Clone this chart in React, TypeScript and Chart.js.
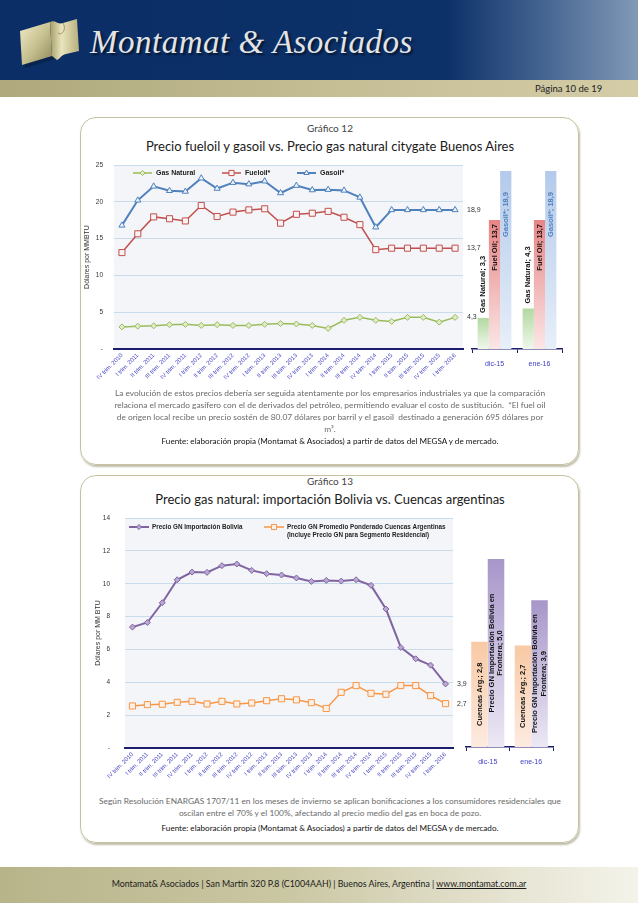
import React, { useEffect, useRef } from 'react';
import { Chart, registerables } from 'chart.js';
import { drawPoint } from 'chart.js/helpers';

Chart.register(...registerables);

// ---------- DATA ----------
const quarters = [
  'IV trim. 2010', 'I trim. 2011', 'II trim. 2011', 'III trim. 2011', 'IV trim. 2011',
  'I trim. 2012', 'II trim. 2012', 'III trim. 2012', 'IV trim. 2012',
  'I trim. 2013', 'II trim. 2013', 'III trim. 2013', 'IV trim. 2013',
  'I trim. 2014', 'II trim. 2014', 'III trim. 2014', 'IV trim. 2014',
  'I trim. 2015', 'II trim. 2015', 'III trim. 2015', 'IV trim. 2015', 'I trim. 2016',
];

const gasNatural = [3.0, 3.1, 3.15, 3.3, 3.35, 3.2, 3.3, 3.2, 3.2, 3.35, 3.45, 3.4, 3.2, 2.8, 3.9, 4.3, 3.9, 3.75, 4.3, 4.3, 3.65, 4.3];
const fueloil = [13.1, 15.65, 17.95, 17.7, 17.4, 19.5, 18.0, 18.6, 18.9, 19.05, 17.1, 18.3, 18.45, 18.7, 17.9, 16.9, 13.5, 13.7, 13.7, 13.7, 13.7, 13.7];
const gasoil = [16.8, 20.2, 22.1, 21.5, 21.4, 23.2, 21.8, 22.6, 22.4, 22.8, 21.2, 22.2, 21.6, 21.65, 21.55, 20.6, 16.55, 18.9, 18.9, 18.9, 18.9, 18.9];

const months = ['dic-15', 'ene-16'];
const barGasNatural = [3.3, 4.3];
const barFuelOil = [13.7, 13.7];
const barGasoil = [18.9, 18.9];

const bolivia = [7.36, 7.64, 8.84, 10.24, 10.71, 10.69, 11.1, 11.2, 10.81, 10.61, 10.53, 10.35, 10.14, 10.2, 10.16, 10.24, 9.9, 8.46, 6.12, 5.43, 5.04, 3.9];
const cuencas = [2.56, 2.64, 2.66, 2.78, 2.84, 2.68, 2.84, 2.68, 2.74, 2.88, 3.0, 2.93, 2.76, 2.41, 3.39, 3.8, 3.33, 3.27, 3.8, 3.8, 3.19, 2.7];

const barCuencas = [2.8, 2.7];
const barBolivia = [5.0, 3.9];

const yTicks12 = { min: 0, max: 25, step: 5 };
const yTicks13 = { min: 0, max: 14, step: 2 };

// ---------- HELPERS ----------
const fmt = (v: number) => v.toFixed(1).replace('.', ',');
const SANS = '"Liberation Sans", Arial, sans-serif';

function wrapText(ctx: CanvasRenderingContext2D, text: string, maxW: number) {
  const words = text.split(' ');
  const lines: string[] = [];
  let cur = '';
  for (const w of words) {
    const t = cur ? cur + ' ' + w : w;
    if (ctx.measureText(t).width > maxW && cur) {
      lines.push(cur);
      cur = w;
    } else cur = t;
  }
  if (cur) lines.push(cur);
  return lines;
}

const plotBg = {
  id: 'plotBg',
  beforeDraw(chart: any, _a: any, o: any) {
    if (!o || !o.color) return;
    const { ctx, chartArea: a } = chart;
    ctx.save();
    ctx.fillStyle = o.color;
    ctx.fillRect(a.left, a.top, a.right - a.left, a.bottom - a.top);
    ctx.restore();
  },
};

const endLabels = {
  id: 'endLabels',
  afterDatasetsDraw(chart: any, _a: any, o: any) {
    if (!o || !o.display) return;
    const ctx = chart.ctx;
    chart.data.datasets.forEach((ds: any, i: number) => {
      const meta = chart.getDatasetMeta(i);
      const pt = meta.data[meta.data.length - 1];
      const v = ds.data[ds.data.length - 1];
      ctx.save();
      ctx.font = o.font;
      ctx.fillStyle = o.color;
      ctx.textAlign = 'left';
      ctx.textBaseline = 'middle';
      ctx.fillText(fmt(v), chart.chartArea.right + o.offset, pt.y);
      ctx.restore();
    });
  },
};

const inLegend = {
  id: 'inLegend',
  afterDraw(chart: any, _a: any, o: any) {
    if (!o || !o.items) return;
    const ctx = chart.ctx;
    o.items.forEach((it: any, i: number) => {
      const ds = chart.data.datasets[i];
      const y = o.y;
      ctx.save();
      ctx.strokeStyle = ds.borderColor;
      ctx.lineWidth = ds.borderWidth;
      ctx.beginPath();
      ctx.moveTo(it.x, y);
      ctx.lineTo(it.x + o.lineLen, y);
      ctx.stroke();
      ctx.fillStyle = ds.pointBackgroundColor;
      ctx.strokeStyle = ds.borderColor;
      ctx.lineWidth = 1;
      drawPoint(ctx, { pointStyle: ds.pointStyle, radius: ds.pointRadius * 0.85, rotation: 0, borderWidth: 1 } as any, it.x + o.lineLen / 2, y);
      ctx.font = o.font;
      ctx.fillStyle = o.color;
      ctx.textAlign = 'left';
      ctx.textBaseline = 'middle';
      const lines = wrapText(ctx, ds.label, it.wrap || 9999);
      lines.forEach((ln, k) => ctx.fillText(ln, it.x + o.lineLen + o.gap, y + k * o.lineHeight));
      ctx.restore();
    });
  },
};

const barLabels = {
  id: 'barLabels',
  afterDatasetsDraw(chart: any, _a: any, o: any) {
    if (!o || !o.styles) return;
    const ctx = chart.ctx;
    chart.data.datasets.forEach((ds: any, i: number) => {
      const s = o.styles[i];
      const meta = chart.getDatasetMeta(i);
      meta.data.forEach((bar: any, j: number) => {
        const text = `${ds.label}; ${fmt(ds.data[j])}`;
        ctx.save();
        ctx.font = o.font;
        ctx.fillStyle = s.color || o.color;
        ctx.textBaseline = 'middle';
        const lines = wrapText(ctx, text, o.wrap || 9999);
        let ay: number;
        let align: CanvasTextAlign;
        if (s.anchor === 'outside') {
          ay = bar.y - s.pad;
          align = 'left';
        } else if (s.anchor === 'inside') {
          ay = bar.y + s.pad;
          align = 'right';
        } else {
          ay = (bar.y + bar.base) / 2;
          align = 'center';
        }
        ctx.translate(bar.x, ay);
        ctx.rotate(-Math.PI / 2);
        ctx.textAlign = align;
        lines.forEach((ln, k) => ctx.fillText(ln, 0, (k - (lines.length - 1) / 2) * o.lineHeight));
        ctx.restore();
      });
    });
  },
};

const grad = (bottom: string, top: string) => (c: any) => {
  const chart = c.chart;
  const y = chart.scales && chart.scales.y;
  if (!chart.chartArea || !y || c.raw == null) return top;
  const yTop = y.getPixelForValue(c.raw);
  const yBase = y.getPixelForValue(0);
  if (!isFinite(yTop) || !isFinite(yBase) || yTop === yBase) return top;
  const g = chart.ctx.createLinearGradient(0, yBase, 0, yTop);
  g.addColorStop(0, bottom);
  g.addColorStop(1, top);
  return g;
};

function lineConfig(p: any) {
  return {
    type: 'line',
    data: { labels: quarters, datasets: p.datasets },
    options: {
      responsive: false,
      animation: false,
      devicePixelRatio: 1,
      layout: { padding: p.padding },
      plugins: {
        legend: { display: false },
        tooltip: { enabled: false },
        plotBg: { color: '#f4f5f8' },
        endLabels: { display: true, font: `7px ${SANS}`, color: '#333', offset: 4 },
        inLegend: p.legend,
      },
      scales: {
        x: {
          offset: true,
          grid: { display: false, drawTicks: false },
          border: { display: true, color: '#1d1d6e', width: 2 },
          ticks: { autoSkip: false, minRotation: 45, maxRotation: 45, font: { size: 6, family: SANS }, color: '#4848c4', padding: 3 },
          afterFit: (s: any) => { s.height = p.xHeight; },
        },
        y: {
          min: p.yt.min,
          max: p.yt.max,
          ticks: {
            stepSize: p.yt.step,
            callback: (v: any) => (v === 0 ? '-' : String(v)),
            font: { size: 6.5, family: SANS },
            color: '#333',
            padding: 3,
          },
          grid: { color: '#c9dcee', drawTicks: true, tickLength: p.tickGap, tickColor: 'rgba(0,0,0,0)', lineWidth: 1 },
          border: { display: false },
          title: { display: true, text: p.yTitle, font: { size: 7, family: SANS }, color: '#333', padding: { top: p.titlePad, bottom: 0 } },
          afterFit: (s: any) => { s.width = p.yWidth; },
        },
      },
    },
    plugins: [plotBg, endLabels, inLegend],
  };
}

function barConfig(p: any) {
  return {
    type: 'bar',
    data: { labels: months, datasets: p.datasets },
    options: {
      responsive: false,
      animation: false,
      devicePixelRatio: 1,
      layout: { padding: p.padding },
      datasets: { bar: { categoryPercentage: p.catPct, barPercentage: 1 } },
      plugins: {
        legend: { display: false },
        tooltip: { enabled: false },
        barLabels: p.labels,
      },
      scales: {
        x: {
          grid: { display: true, drawOnChartArea: false, drawTicks: true, tickLength: 4, color: '#1d1d6e', lineWidth: 1, offset: true },
          border: { display: true, color: '#1d1d6e', width: 1.5 },
          ticks: { font: { size: 7, family: SANS }, color: '#3c3cc4', padding: 7 },
          afterFit: (s: any) => { s.height = 20; },
        },
        y: { display: false, min: 0, max: p.yMax },
      },
    },
    plugins: [barLabels],
  };
}

function ChartCanvas({ left, top, width, height, make }: any) {
  const ref = useRef<HTMLCanvasElement>(null);
  useEffect(() => {
    const c = new Chart(ref.current as HTMLCanvasElement, make());
    return () => c.destroy();
  }, []);
  return <canvas ref={ref} width={width} height={height} style={{ position: 'absolute', left, top, width, height }} />;
}

const make12Line = () =>
  lineConfig({
    datasets: [
      { label: 'Gas Natural', data: gasNatural, borderColor: '#9bbb59', borderWidth: 1.5, pointStyle: 'rectRot', pointRadius: 3, pointBackgroundColor: '#dfeccb', pointBorderColor: '#9bbb59', pointBorderWidth: 1, tension: 0 },
      { label: 'Fueloil*', data: fueloil, borderColor: '#c0504d', borderWidth: 1.5, pointStyle: 'rect', pointRadius: 4.3, pointBackgroundColor: '#fbf3f3', pointBorderColor: '#c0504d', pointBorderWidth: 1, tension: 0 },
      { label: 'Gasoil*', data: gasoil, borderColor: '#4f81bd', borderWidth: 2, pointStyle: 'triangle', pointRadius: 3.5, pointBackgroundColor: '#eef3fa', pointBorderColor: '#4f81bd', pointBorderWidth: 1, tension: 0 },
    ],
    padding: { top: 15, right: 22, bottom: 0, left: 0 },
    xHeight: 41,
    yWidth: 34,
    tickGap: 8,
    titlePad: 3,
    yTitle: 'Dólares por MMBTU',
    yt: yTicks12,
    legend: {
      y: 23, lineLen: 19, gap: 4, lineHeight: 8, font: `bold 7px ${SANS}`, color: '#222',
      items: [{ x: 53 }, { x: 142 }, { x: 217 }],
    },
  });

const make12Bar = () =>
  barConfig({
    datasets: [
      { label: 'Gas Natural', data: barGasNatural, backgroundColor: grad('#f0f8ec', '#b2d8a0') },
      { label: 'Fuel Oil', data: barFuelOil, backgroundColor: grad('#fbe6e6', '#e78585') },
      { label: 'Gasoil*', data: barGasoil, backgroundColor: grad('#e7eff9', '#b3caeb') },
    ],
    padding: { left: 7, right: 13, top: 21, bottom: 6 },
    catPct: 0.75,
    yMax: Math.max(...barGasoil, ...barFuelOil, ...barGasNatural),
    labels: {
      font: `bold 7.5px ${SANS}`, color: '#111', lineHeight: 8,
      styles: [
        { anchor: 'outside', pad: 5 },
        { anchor: 'inside', pad: 4 },
        { anchor: 'inside', pad: 21, color: '#4f81bd' },
      ],
    },
  });

const make13Line = () =>
  lineConfig({
    datasets: [
      { label: 'Precio GN Importación Bolivia', data: bolivia, borderColor: '#8064a2', borderWidth: 2, pointStyle: 'rectRot', pointRadius: 3, pointBackgroundColor: '#b9a9d2', pointBorderColor: '#8064a2', pointBorderWidth: 1, tension: 0 },
      { label: 'Precio GN Promedio Ponderado Cuencas Argentinas (Incluye Precio GN para Segmento Residencial)', data: cuencas, borderColor: '#f79646', borderWidth: 1.5, pointStyle: 'rect', pointRadius: 4.3, pointBackgroundColor: '#fdf0e6', pointBorderColor: '#f79646', pointBorderWidth: 1, tension: 0 },
    ],
    padding: { top: 10, right: 32, bottom: 0, left: 0 },
    xHeight: 42,
    yWidth: 45,
    tickGap: 12,
    titlePad: 14,
    yTitle: 'Dólares por MM BTU',
    yt: yTicks13,
    legend: {
      y: 19, lineLen: 20, gap: 3, lineHeight: 8, font: `bold 6.3px ${SANS}`, color: '#222',
      items: [{ x: 49 }, { x: 184, wrap: 168 }],
    },
  });

const make13Bar = () =>
  barConfig({
    datasets: [
      { label: 'Cuencas Arg.', data: barCuencas, backgroundColor: grad('#fdebe0', '#f8c9a4') },
      { label: 'Precio GN Importación Bolivia en Frontera', data: barBolivia, backgroundColor: grad('#ece8f4', '#a796c9') },
    ],
    padding: { left: 6, right: 17, top: 19, bottom: 3 },
    catPct: 0.76,
    yMax: Math.max(...barBolivia, ...barCuencas),
    labels: {
      font: `bold 7.5px ${SANS}`, color: '#111', lineHeight: 8.5, wrap: 128,
      styles: [
        { anchor: 'center', pad: 0 },
        { anchor: 'center', pad: 0 },
      ],
    },
  });

const noteStyle: React.CSSProperties = {
  position: 'absolute', left: 80, width: 500, textAlign: 'center', whiteSpace: 'nowrap',
  fontSize: 8.4, lineHeight: '12px', color: '#6a6a6a', height: 12,
};
const srcStyle: React.CSSProperties = { ...noteStyle, color: '#111', fontSize: 8.1 };

function Line({ y, children, style }: any) {
  return <div style={{ ...(style || noteStyle), top: y - 6 }}>{children}</div>;
}

export default function App() {
  return (
    <div style={{ position: 'absolute', left: 0, top: 0, width: 638, height: 903, background: '#fff', overflow: 'hidden', fontFamily: 'Lato, "Liberation Sans", sans-serif' }}>
      {/* Header */}
      <div style={{ position: 'absolute', left: 0, top: 0, width: 638, height: 80, background: 'linear-gradient(90deg, #0b2e66 0%, #0c3068 70%, #40608e 84%, #8199b6 100%)' }} />
      <div style={{ position: 'absolute', left: 0, top: 80, width: 638, height: 17, background: 'linear-gradient(90deg, #aea87c 0%, #c4bd94 50%, #d3cca6 100%)' }} />
      <svg style={{ position: 'absolute', left: 0, top: 0 }} width={100} height={80}>
        <defs>
          <linearGradient id="gold" x1="0" y1="0" x2="1" y2="1">
            <stop offset="0" stopColor="#efebc8" />
            <stop offset="0.5" stopColor="#c9c292" />
            <stop offset="1" stopColor="#8f8757" />
          </linearGradient>
          <linearGradient id="gold2" x1="0" y1="0" x2="1" y2="0">
            <stop offset="0" stopColor="#a59d68" />
            <stop offset="0.4" stopColor="#e9e4bd" />
            <stop offset="1" stopColor="#b7af7c" />
          </linearGradient>
        </defs>
        <path d="M21,32 L50,23 L53,57 L23,66 Z" fill="#061834" opacity="0.5" transform="translate(2,2)" />
        <path d="M20,31 L50,22 L52,56 L22,65 Z" fill="url(#gold)" />
        <path d="M50,22 C55,19 58,25 63,23 L77,19 L79,51 L66,54 C61,55 60,59 57,60 L52,56 Z" fill="url(#gold2)" />
        <path d="M63,23 C66,28 64,33 60,34 L58,33" fill="none" stroke="#8f8757" strokeWidth="0.8" />
      </svg>
      <div style={{ position: 'absolute', left: 90, top: 24, fontFamily: '"Liberation Serif", serif', fontStyle: 'italic', fontSize: 33, color: '#e4e4e4', textShadow: '2px 2px 2px #051731', whiteSpace: 'nowrap', letterSpacing: 0.5 }}>
        Montamat &amp; Asociados
      </div>
      <div style={{ position: 'absolute', left: 535, top: 82, fontSize: 9.5, color: '#222', whiteSpace: 'nowrap', lineHeight: '14px' }}>Página 10 de 19</div>

      {/* Box 12 */}
      <div style={{ position: 'absolute', left: 80, top: 117, width: 497, height: 346, border: '1.5px solid #c6c1a0', borderRadius: 16, boxShadow: '1px 2px 2px rgba(140,135,100,0.55)' }} />
      <div style={{ position: 'absolute', left: 80, width: 500, top: 121, textAlign: 'center', fontSize: 10, color: '#444', lineHeight: '14px' }}>Gráfico 12</div>
      <div style={{ position: 'absolute', left: 80, width: 500, top: 137, textAlign: 'center', fontSize: 13, color: '#1a1a1a', lineHeight: '18px', whiteSpace: 'nowrap' }}>Precio fueloil y gasoil vs. Precio gas natural citygate Buenos Aires</div>
      <ChartCanvas left={80} top={150} width={405} height={240} make={make12Line} />
      <ChartCanvas left={465} top={150} width={110} height={225} make={make12Bar} />
      <Line y={393}>La evolución de estos precios debería ser seguida atentamente por los empresarios industriales ya que la comparación</Line>
      <Line y={405}>relaciona el mercado gasífero con el de derivados del petróleo, permitiendo evaluar el costo de sustitución.&nbsp; *El fuel oil</Line>
      <Line y={417}>de origen local recibe un precio sostén de 80.07 dólares por barril y el gasoil&nbsp; destinado a generación 695 dólares por</Line>
      <Line y={429}>m³.</Line>
      <Line y={441} style={srcStyle}>Fuente: elaboración propia (Montamat &amp; Asociados) a partir de datos del MEGSA y de mercado.</Line>

      {/* Box 13 */}
      <div style={{ position: 'absolute', left: 80, top: 475, width: 497, height: 366, border: '1.5px solid #c6c1a0', borderRadius: 16, boxShadow: '1px 2px 2px rgba(140,135,100,0.55)' }} />
      <div style={{ position: 'absolute', left: 80, width: 500, top: 474, textAlign: 'center', fontSize: 10, color: '#444', lineHeight: '14px' }}>Gráfico 13</div>
      <div style={{ position: 'absolute', left: 80, width: 500, top: 490, textAlign: 'center', fontSize: 13, color: '#1a1a1a', lineHeight: '18px', whiteSpace: 'nowrap' }}>Precio gas natural: importación Bolivia vs. Cuencas argentinas</div>
      <ChartCanvas left={80} top={508} width={405} height={282} make={make13Line} />
      <ChartCanvas left={460} top={540} width={110} height={230} make={make13Bar} />
      <Line y={801}>Según Resolución ENARGAS 1707/11 en los meses de invierno se aplican bonificaciones a los consumidores residenciales que</Line>
      <Line y={813}>oscilan entre el 70% y el 100%, afectando al precio medio del gas en boca de pozo.</Line>
      <Line y={828} style={srcStyle}>Fuente: elaboración propia (Montamat &amp; Asociados) a partir de datos del MEGSA y de mercado.</Line>

      {/* Footer */}
      <div style={{ position: 'absolute', left: 0, top: 867, width: 638, height: 36, background: 'linear-gradient(90deg, #b8b48a 0%, #cac7a3 45%, #e6e4d2 80%, #f4f3ea 100%)' }} />
      <div style={{ position: 'absolute', left: 0, width: 638, top: 877, textAlign: 'center', fontSize: 8.8, color: '#1a1a1a', whiteSpace: 'nowrap', lineHeight: '14px' }}>
        Montamat&amp; Asociados | San Martín 320 P.8 (C1004AAH) | Buenos Aires, Argentina | <span style={{ textDecoration: 'underline' }}>www.montamat.com.ar</span>
      </div>
    </div>
  );
}
